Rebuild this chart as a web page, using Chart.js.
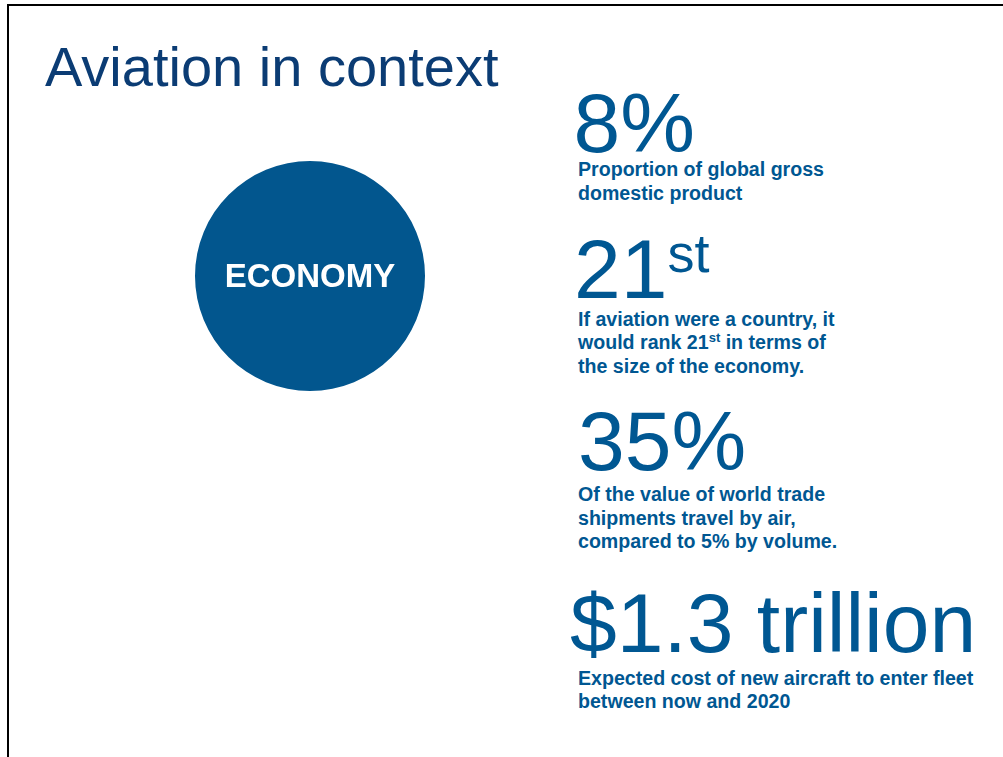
<!DOCTYPE html>
<html>
<head>
<meta charset="utf-8">
<script src="https://cdn.jsdelivr.net/npm/chart.js@4/dist/chart.umd.min.js"></script>
<style>
  html, body { margin: 0; padding: 0; background: #ffffff; }
  body { width: 1003px; height: 757px; position: relative; overflow: hidden;
         font-family: "Liberation Sans", Arial, sans-serif; }
  .frame-top { position: absolute; left: 7px; top: 4px; width: 996px; height: 2px; background: #000; }
  .frame-left { position: absolute; left: 7px; top: 4px; width: 2px; height: 753px; background: #000; }
  .title { position: absolute; left: 45px; top: 38.6px; font-size: 56px; line-height: 56px;
           color: #0B3C74; white-space: nowrap; }
  .pie-box { position: absolute; left: 195px; top: 161px; width: 230px; height: 230px; }
  .pie-label { position: absolute; left: 0; top: 0; width: 230px; text-align: center;
               font-weight: bold; font-size: 33px; line-height: 33px; color: #ffffff;
               margin-top: 98px; pointer-events: none; }
  .figure { position: absolute; font-size: 84px; line-height: 62px; color: #005792; white-space: nowrap; }
  .figure .sup { font-size: 54px; line-height: 0; vertical-align: 26px; }
  .note { position: absolute; left: 578px; font-size: 19.6px; line-height: 23.5px; font-weight: bold;
          color: #005792; white-space: nowrap; }
  .note .sup { font-size: 13px; line-height: 0; vertical-align: 7px; }
</style>
</head>
<body>
<div class="frame-top"></div>
<div class="frame-left"></div>
<div class="title" id="title"></div>
<div class="pie-box">
  <canvas id="pie" width="230" height="230"></canvas>
  <div class="pie-label" id="pieLabel"></div>
</div>
<div id="stats"></div>
<script>
// Slide heading
const slideTitle = 'Aviation in context';

// The single highlighted sector
const categories = ['ECONOMY'];
const shares = [100];

// Headline figures, their superscript suffixes and explanatory notes
const statFigures = ['8%', '21', '35%', '$1.3 trillion'];
const statSuffixes = ['', 'st', '', ''];
const statNotes = [
  ['Proportion of global gross', 'domestic product'],
  ['If aviation were a country, it', 'would rank 21st in terms of', 'the size of the economy.'],
  ['Of the value of world trade', 'shipments travel by air,', 'compared to 5% by volume.'],
  ['Expected cost of new aircraft to enter fleet', 'between now and 2020']
];

// Layout of each stat block: figure origin x, figure top, note top
const statLayout = [
  { fx: 573.5, ft: 92,  nt: 158 },
  { fx: 574,   ft: 238, nt: 307.5 },
  { fx: 578,   ft: 410, nt: 483.2 },
  { fx: 570,   ft: 592, nt: 666.5 }
];

document.getElementById('title').textContent = slideTitle;
document.getElementById('pieLabel').textContent = categories[0];

const esc = s => s.replace(/&/g, '&amp;').replace(/</g, '&lt;');
const statsEl = document.getElementById('stats');
statFigures.forEach((fig, i) => {
  const L = statLayout[i];
  const f = document.createElement('div');
  f.className = 'figure';
  f.style.left = L.fx + 'px';
  f.style.top = L.ft + 'px';
  f.innerHTML = esc(fig) + (statSuffixes[i] ? '<span class="sup">' + esc(statSuffixes[i]) + '</span>' : '');
  statsEl.appendChild(f);

  const n = document.createElement('div');
  n.className = 'note';
  n.style.top = L.nt + 'px';
  n.innerHTML = statNotes[i]
    .map(line => esc(line).replace(/(\d)(st)\b/g, '$1<span class="sup">$2</span>'))
    .join('<br>');
  statsEl.appendChild(n);
});

new Chart(document.getElementById('pie'), {
  type: 'pie',
  data: {
    labels: categories,
    datasets: [{
      data: shares,
      backgroundColor: ['#02568E'],
      borderWidth: 0,
      hoverOffset: 0
    }]
  },
  options: {
    responsive: false,
    animation: false,
    layout: { padding: 0 },
    events: [],
    plugins: {
      legend: { display: false },
      tooltip: { enabled: false },
      title: { display: false }
    }
  }
});
</script>
</body>
</html>
